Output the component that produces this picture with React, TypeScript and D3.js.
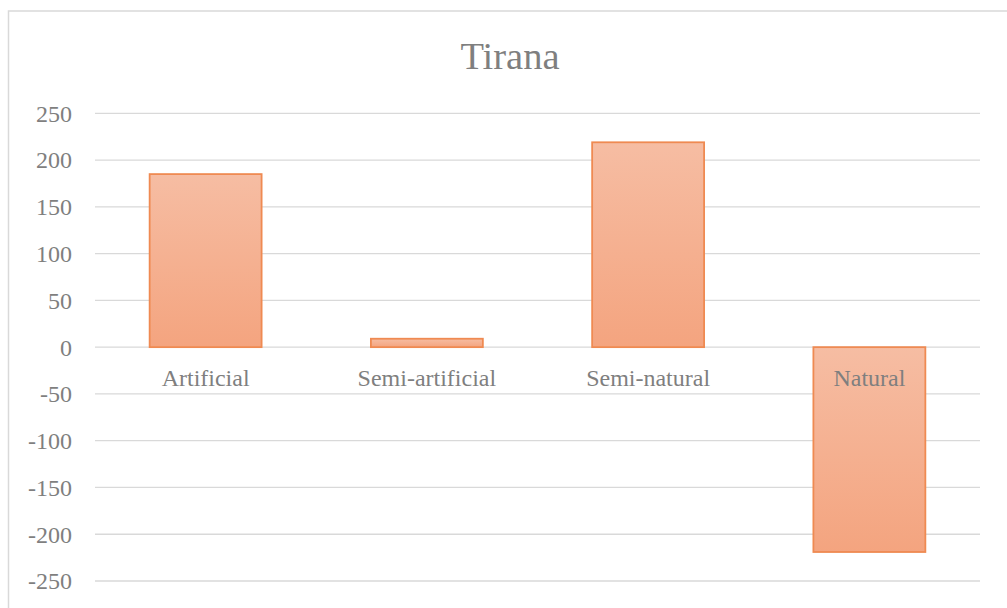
import React from "react";
import * as d3 from "d3";

// Land-cover change by class, Tirana
const categories: string[] = ["Artificial", "Semi-artificial", "Semi-natural", "Natural"];
const values: number[] = [185, 9, 219, -219];
const yTicks: number[] = [250, 200, 150, 100, 50, 0, -50, -100, -150, -200, -250];
const chartTitle = "Tirana";

const W = 1007;
const H = 608;
const FONT = "'Liberation Serif', 'Times New Roman', serif";
const TEXT = "#7f7f7f";
const GRID = "#d9d9d9";

export default function App() {
  const x = d3
    .scaleBand<string>()
    .domain(categories)
    .range([95, 980])
    .paddingInner(0.494)
    .paddingOuter(0.247);

  const y = d3.scaleLinear().domain([-250, 250]).range([581, 113.3]);

  return (
    <svg
      width={W}
      height={H}
      viewBox={`0 0 ${W} ${H}`}
      style={{ position: "absolute", left: 0, top: 0, display: "block", background: "#fff" }}
    >
      <defs>
        <linearGradient id="barFill" x1="0" y1="0" x2="0" y2="1">
          <stop offset="0%" stopColor="#f6bda3" />
          <stop offset="100%" stopColor="#f4a47f" />
        </linearGradient>
      </defs>

      {/* outer chart frame */}
      <rect x={8.5} y={11} width={W + 20} height={H + 20} fill="#fff" stroke={GRID} strokeWidth={1.5} />

      <text
        x={510}
        y={69}
        textAnchor="middle"
        fontFamily={FONT}
        fontSize={38.5}
        fill={TEXT}
      >
        {chartTitle}
      </text>

      {/* gridlines and value axis labels */}
      {yTicks.map((t) => (
        <g key={t}>
          <line x1={95} x2={980} y1={y(t)} y2={y(t)} stroke={GRID} strokeWidth={1.3} />
          <text
            x={72}
            y={y(t)}
            dy="0.35em"
            textAnchor="end"
            fontFamily={FONT}
            fontSize={24}
            fill={TEXT}
          >
            {t}
          </text>
        </g>
      ))}

      {/* bars */}
      {categories.map((c, i) => {
        const v = values[i];
        const top = y(Math.max(0, v));
        const bottom = y(Math.min(0, v));
        return (
          <rect
            key={c}
            x={x(c)!}
            y={top}
            width={x.bandwidth()}
            height={bottom - top}
            fill="url(#barFill)"
            stroke="#ef8a52"
            strokeWidth={1.8}
          />
        );
      })}

      {/* category labels sit just below the zero line */}
      {categories.map((c) => (
        <text
          key={c}
          x={x(c)! + x.bandwidth() / 2}
          y={y(0) + 39}
          textAnchor="middle"
          fontFamily={FONT}
          fontSize={24}
          fill={TEXT}
        >
          {c}
        </text>
      ))}
    </svg>
  );
}
